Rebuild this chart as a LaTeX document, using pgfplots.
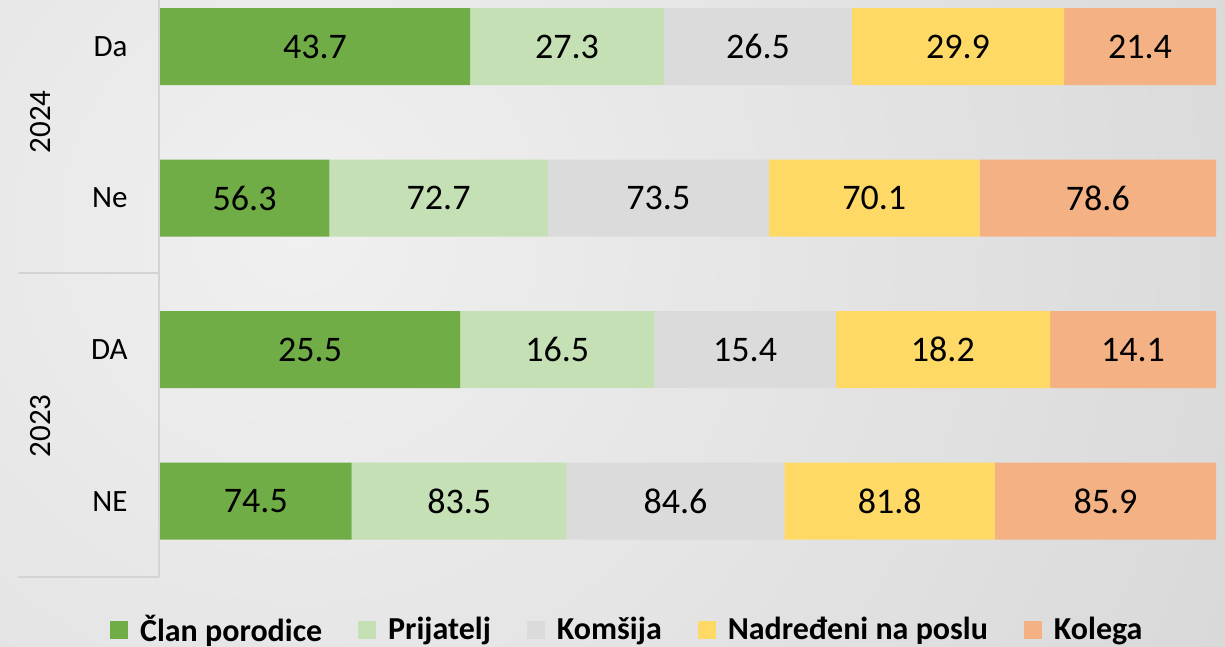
\documentclass[border=0pt]{standalone}
\usepackage{pgfplots}
\pgfplotsset{compat=1.18}
\usepackage{pgfplotstable}
\usepackage{fontspec}
\setmainfont{Carlito}
\definecolor{cClan}{HTML}{70AD47}
\definecolor{cPrij}{HTML}{C5E0B4}
\definecolor{cKoms}{HTML}{DBDBDB}
\definecolor{cNadr}{HTML}{FFD966}
\definecolor{cKol}{HTML}{F4B183}
\definecolor{bgIn}{HTML}{F0F0F0}
\definecolor{bgOut}{HTML}{BEBEBE}
\definecolor{sepc}{HTML}{D4D4D4}

\pgfplotstableread{
grp clan prij koms nadr kol
0 74.5 83.5 84.6 81.8 85.9
1 25.5 16.5 15.4 18.2 14.1
2 56.3 72.7 73.5 70.1 78.6
3 43.7 27.3 26.5 29.9 21.4
}\data
\newcommand\tot{(\thisrow{clan}+\thisrow{prij}+\thisrow{koms}+\thisrow{nadr}+\thisrow{kol})}
\pgfplotsset{sq legend/.style={legend image code/.code={\fill[##1] (0pt,-4.5pt) rectangle (9pt,4.5pt);}},
  frame/.style={at={(80pt,35pt)}, anchor=south west,
  scale only axis, width=528pt, height=288.5pt,
  xmin=0, xmax=100, ymin=-0.5, ymax=3.307}}

\begin{document}
\begin{tikzpicture}
\useasboundingbox (0,0) rectangle (612.5pt,323.5pt);
\begin{scope}
\clip (0,0) rectangle (612.5pt,323.5pt);
\shade[inner color=bgIn, outer color=bgOut] (-950pt,-890pt) rectangle (1250pt,1310pt);
\end{scope}
\begin{axis}[
  frame,
  xbar stacked, bar width=38.5pt,
  axis line style={draw=none},
  xtick=\empty,
  ytick={0,1,2,3}, yticklabels={NE,DA,Ne,Da},
  major tick length=0pt,
  yticklabel style={font=\fontsize{15.5}{18}\selectfont, anchor=east, inner sep=0pt, xshift=-16pt},
  legend style={at={(0.443,-0.091)}, anchor=center, draw=none, fill=none,
    font=\bfseries\fontsize{16}{19}\selectfont, nodes={inner sep=1.5pt},
    /tikz/every odd column/.append style={column sep=4.5pt},
    /tikz/every even column/.append style={column sep=16.5pt}},
  legend columns=-1,
]
\addplot[fill=cClan, draw=none, sq legend] table[y=grp, x expr=\thisrow{clan}/\tot*100] {\data};
\addplot[fill=cPrij, draw=none, sq legend] table[y=grp, x expr=\thisrow{prij}/\tot*100] {\data};
\addplot[fill=cKoms, draw=none, sq legend] table[y=grp, x expr=\thisrow{koms}/\tot*100] {\data};
\addplot[fill=cNadr, draw=none, sq legend] table[y=grp, x expr=\thisrow{nadr}/\tot*100] {\data};
\addplot[fill=cKol, draw=none, sq legend] table[y=grp, x expr=\thisrow{kol}/\tot*100] {\data};
\legend{Član porodice, Prijatelj, Komšija, Nadređeni na poslu, Kolega}
\end{axis}
\begin{axis}[
  frame, hide axis, clip=false,
  /pgf/number format/assume math mode=true,
  point meta=explicit,
  nodes near coords={\pgfmathprintnumber[fixed,precision=1,fixed zerofill]{\pgfplotspointmeta}},
  every node near coord/.append style={font=\fontsize{18}{21}\selectfont, anchor=center, inner sep=0pt},
]
\addplot[draw=none, mark=none] table[y=grp, x expr=(\thisrow{clan}/2)/\tot*100, meta=clan] {\data};
\addplot[draw=none, mark=none] table[y=grp, x expr=(\thisrow{clan}+\thisrow{prij}/2)/\tot*100, meta=prij] {\data};
\addplot[draw=none, mark=none] table[y=grp, x expr=(\thisrow{clan}+\thisrow{prij}+\thisrow{koms}/2)/\tot*100, meta=koms] {\data};
\addplot[draw=none, mark=none] table[y=grp, x expr=(\thisrow{clan}+\thisrow{prij}+\thisrow{koms}+\thisrow{nadr}/2)/\tot*100, meta=nadr] {\data};
\addplot[draw=none, mark=none] table[y=grp, x expr=(\thisrow{clan}+\thisrow{prij}+\thisrow{koms}+\thisrow{nadr}+\thisrow{kol}/2)/\tot*100, meta=kol] {\data};
\end{axis}
\draw[sepc, line width=1pt] (79.5pt,35pt) -- (79.5pt,323.5pt);
\draw[sepc, line width=1pt] (9pt,187pt) -- (79.5pt,187pt);
\draw[sepc, line width=1pt] (9pt,35pt) -- (79.5pt,35pt);
\node[rotate=90, font=\fontsize{15.5}{18}\selectfont] at (20.25pt,262.5pt) {2024};
\node[rotate=90, font=\fontsize{15.5}{18}\selectfont] at (20.25pt,110.5pt) {2023};
\end{tikzpicture}
\end{document}
